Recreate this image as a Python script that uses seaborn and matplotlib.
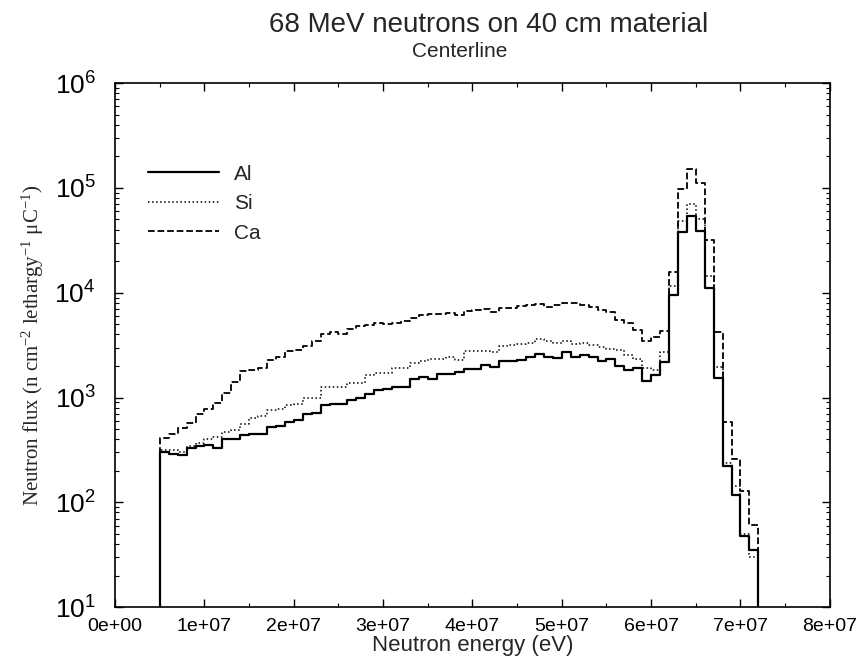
# %%

import numpy as np
import pandas as pd
import matplotlib
matplotlib.use('Agg')
import matplotlib.pyplot as plt
from matplotlib.ticker import FuncFormatter, MultipleLocator, LogLocator
import seaborn as sns

# %%

# 1 MeV wide energy bins, 5 MeV .. 72 MeV (eV)
energy_edges = np.arange(5, 73) * 1e6

al_flux = [300, 289, 285, 331, 343, 355, 331, 398, 406, 437,
           444, 444, 518, 536, 590, 607, 696, 718, 850, 875,
           875, 942, 1000, 1075, 1180, 1210, 1250, 1260, 1500, 1580,
           1500, 1660, 1660, 1750, 1870, 1870, 2060, 1950, 2220, 2220,
           2280, 2460, 2610, 2430, 2400, 2700, 2460, 2570, 2460, 2250,
           2350, 2010, 1830, 1910, 1450, 1630, 2170, 9500, 37800, 53800,
           38600, 11000, 1550, 220, 118, 48, 35]

si_flux = [318, 318, 302, 348, 369, 400, 420, 470, 490, 554,
           640, 665, 760, 777, 850, 870, 1000, 1000, 1250, 1260,
           1270, 1365, 1380, 1650, 1700, 1720, 1910, 1910, 2120, 2220,
           2340, 2340, 2430, 2290, 2770, 2770, 2770, 2700, 3070, 3150,
           3230, 3320, 3590, 3450, 3350, 3500, 3230, 3280, 3200, 3020,
           2900, 2820, 2520, 2340, 1900, 1850, 2700, 11500, 48000, 71000,
           50000, 14500, 1970, 237, 142, 50, 30]

ca_flux = [412, 451, 507, 575, 692, 777, 893, 1100, 1400, 1800,
           1850, 1910, 2290, 2460, 2800, 2850, 3100, 3500, 4080, 4220,
           4060, 4540, 4800, 4950, 5100, 5070, 5100, 5380, 5760, 6160,
           6240, 6240, 6400, 6160, 6700, 6800, 6920, 6570, 7080, 7200,
           7430, 7600, 7800, 7300, 7600, 8000, 8000, 7600, 7300, 6800,
           6570, 5460, 5120, 4450, 3500, 3800, 4300, 15800, 97000, 151000,
           111000, 32000, 4200, 590, 257, 127, 61]

materials = ['Al', 'Si', 'Ca']
fluxes = {'Al': al_flux, 'Si': si_flux, 'Ca': ca_flux}
line_styles = {'Al': '-', 'Si': ':', 'Ca': '--'}
line_widths = {'Al': 1.6, 'Si': 1.1, 'Ca': 1.3}

y_floor = 10

# %%

# step outline of each histogram, closed down to the axis floor
rows = []
for m in materials:
    vals = fluxes[m]
    xs = [energy_edges[0]] + list(energy_edges[:-1]) + [energy_edges[-1], energy_edges[-1]]
    ys = [y_floor] + list(vals) + [vals[-1], y_floor]
    for x, y in zip(xs, ys):
        rows.append({'energy': x, 'flux': y, 'material': m})
df = pd.DataFrame(rows)

# %%

sns.set_style('ticks')
plt.rcParams['font.family'] = ['Liberation Sans', 'DejaVu Sans']
plt.rcParams['mathtext.fontset'] = 'custom'
plt.rcParams['mathtext.rm'] = 'Liberation Serif'
plt.rcParams['mathtext.it'] = 'Liberation Serif:italic'

fig = plt.figure(figsize=(8.59, 6.65), dpi=100)
ax = fig.add_axes([0.134, 0.087, 0.832, 0.788])

for m in materials:
    sns.lineplot(data=df[df['material'] == m],
                 x='energy', y='flux',
                 sort=False, estimator=None,
                 drawstyle='steps-post',
                 color='black',
                 linestyle=line_styles[m],
                 linewidth=line_widths[m],
                 label=m, ax=ax)

ax.set_yscale('log')
ax.set_xlim(0, 8e7)
ax.set_ylim(y_floor, 1e6)

ax.xaxis.set_major_locator(MultipleLocator(1e7))
ax.xaxis.set_minor_locator(MultipleLocator(5e6))
ax.xaxis.set_major_formatter(FuncFormatter(lambda v, p: f'{v:.0e}'))
ax.yaxis.set_major_locator(LogLocator(base=10, numticks=10))
ax.yaxis.set_minor_locator(LogLocator(base=10, subs=np.arange(2, 10), numticks=20))

ax.tick_params(which='both', direction='in', top=True, right=True, colors='black')
ax.tick_params(which='major', length=6, width=1)
ax.tick_params(which='minor', length=3, width=0.8)
ax.tick_params(axis='x', labelsize=14, pad=8)
ax.tick_params(axis='y', labelsize=19, pad=14)

for s in ax.spines.values():
    s.set_color('black')
    s.set_linewidth(1.2)

ax.set_xlabel('Neutron energy (eV)', fontsize=16, labelpad=0)
ax.set_ylabel('Neutron flux (n cm$^{-2}$ lethargy$^{-1}$ μC$^{-1}$)',
              fontsize=15, family='Liberation Serif', labelpad=6)

fig.text(0.569, 0.962, '68 MeV neutrons on 40 cm material',
         fontsize=20, ha='center', va='center')
fig.text(0.535, 0.922, 'Centerline', fontsize=15, ha='center', va='center')

ax.legend(loc='upper left', bbox_to_anchor=(0.02, 0.88), frameon=False,
          fontsize=15, handlelength=3.4, labelspacing=0.5, handletextpad=0.7)

fig.savefig('out.png', dpi=100)
